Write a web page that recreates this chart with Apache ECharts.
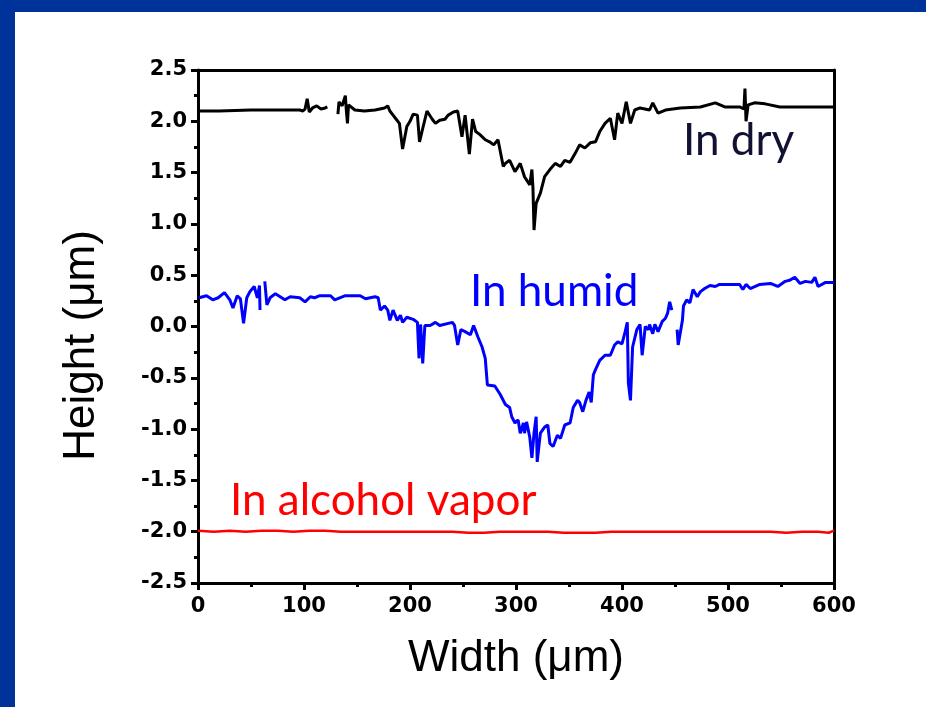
<!DOCTYPE html>
<html>
<head>
<meta charset="utf-8">
<script src="https://cdn.jsdelivr.net/npm/echarts@6/dist/echarts.min.js"></script>
<style>
  html, body { margin: 0; padding: 0; background: #ffffff; }
  #main { width: 926px; height: 707px; }
</style>
</head>
<body>
<div id="main"></div>
<script>
// width positions (um) and heights (um), null = gap in the scan
var dryX = [0, 20, 50, 80, 96, 99, 101, 103, 105, 108, 112, 116, 120, 122, 127,
  132, 133, 136, 139, 140, 141, 142, 148, 157, 167, 176, 179, 181, 184, 187, 190, 193, 197,
  200, 203, 207, 209, 212, 216, 221, 224, 228, 233, 236, 241, 245, 249, 252, 256, 259, 262,
  266, 271, 275, 279, 283, 288, 290, 294, 299, 304, 308, 313, 315, 316, 317, 319, 323, 327,
  332, 337, 342, 346, 351, 356, 360, 365, 370, 375, 379, 384, 389, 393, 396, 400, 404, 408,
  412, 417, 426, 429, 434, 441, 455, 474, 488, 497, 511, 515, 516, 517, 519, 525, 535, 549,
  570, 600];
var dryY = [2.10, 2.10, 2.11, 2.11, 2.11, 2.10, 2.12, 2.22, 2.09, 2.13, 2.15, 2.12, 2.13, 2.14, null,
  2.07, 2.19, 2.15, 2.25, 2.10, 1.98, 2.16, 2.11, 2.10, 2.11, 2.13, 2.15, 2.10, 2.06, 2.02, 1.98, 1.73, 1.95,
  2.00, 2.07, 2.06, 1.80, 1.93, 2.10, 2.02, 1.98, 2.01, 2.02, 2.06, 2.09, 2.10, 1.85, 2.06, 1.68, 2.02, 1.90,
  1.87, 1.82, 1.80, 1.77, 1.82, 1.56, 1.59, 1.62, 1.51, 1.59, 1.46, 1.38, 1.53, 1.35, 0.94, 1.20, 1.30, 1.46,
  1.53, 1.59, 1.56, 1.62, 1.60, 1.69, 1.77, 1.74, 1.79, 1.80, 1.90, 1.98, 2.03, 1.82, 2.08, 1.98, 2.19, 1.98,
  2.11, 2.13, 2.11, 2.18, 2.08, 2.11, 2.13, 2.14, 2.18, 2.14, 2.14, 2.12, 2.32, 2.00, 2.16, 2.18, 2.17, 2.14,
  2.14, 2.14];

var humidX = [1, 8, 14, 19, 25, 30, 33, 37, 40, 43, 46, 49, 53, 56, 58, 58.5, 61,
  63, 65, 68, 73, 82, 87, 96, 101, 106, 110, 115, 125, 129, 139, 153, 158, 167, 170, 172, 176,
  179, 181, 184, 188, 191, 193, 197, 203, 207, 208.5, 210, 212, 214, 219, 224, 228, 240, 242, 245,
  248, 252, 257, 260, 264, 268, 271, 273, 280, 285, 290, 294, 296, 299, 302, 304, 307, 308, 310,
  313, 315, 317, 319, 320, 323, 327, 330, 332, 335, 339, 342, 346, 351, 354, 358, 360, 363, 366,
  369, 371, 373, 375, 379, 384, 389, 393, 396, 400, 403, 405, 406, 408, 410, 414, 417, 419, 422,
  425, 426, 429, 431, 434, 438, 441, 443, 445, 447, 450,
  452, 453, 455, 457, 458, 461, 464, 467, 471, 474, 478, 483, 488, 492, 502, 511, 514, 517, 521,
  530, 540, 547, 554, 558, 563, 568, 573, 579, 582, 585, 592, 600];
var humidY = [0.28, 0.30, 0.26, 0.28, 0.33, 0.26, 0.18, 0.30, 0.27, 0.03, 0.28, 0.34, 0.39, 0.28, 0.40, 0.16, null,
  0.44, 0.21, 0.28, 0.32, 0.26, 0.29, 0.28, 0.24, 0.29, 0.28, 0.30, 0.30, 0.26, 0.30, 0.30, 0.27, 0.29, 0.28, 0.16, 0.20,
  0.16, 0.06, 0.16, 0.06, 0.11, 0.04, 0.09, 0.07, 0.04, -0.31, 0.02, -0.36, 0.01, 0.01, 0.04, 0.01, 0.04, 0.01, -0.18,
  -0.03, -0.05, -0.08, 0.01, -0.10, -0.20, -0.31, -0.57, -0.58, -0.66, -0.76, -0.79, -0.88, -0.94, -0.91, -1.04, -0.94, -1.04, -0.93,
  -1.08, -1.28, -1.04, -0.88, -1.32, -1.04, -0.98, -0.96, -1.14, -1.17, -1.06, -1.09, -0.96, -0.94, -0.79, -0.72, -0.74, -0.83, -0.72,
  -0.64, -0.74, -0.47, -0.42, -0.33, -0.28, -0.28, -0.18, -0.15, -0.17, -0.05, 0.04, -0.55, -0.72, -0.20, -0.03, 0.02, -0.28, 0.00,
  -0.03, 0.02, -0.07, 0.02, -0.05, 0.05, 0.08, 0.13, 0.24, 0.16, null,
  -0.03, -0.18, -0.06, 0.06, 0.20, 0.26, 0.23, 0.36, 0.29, 0.34, 0.37, 0.40, 0.39, 0.41, 0.41, 0.41, 0.36, 0.41, 0.37,
  0.41, 0.42, 0.39, 0.44, 0.45, 0.48, 0.42, 0.44, 0.43, 0.48, 0.39, 0.43, 0.43];

var alcoholX = [0, 15, 30, 45, 60, 75, 90, 105, 120, 135, 150, 165, 180, 195, 210, 225, 240, 255, 270,
  285, 300, 315, 330, 345, 360, 375, 390, 405, 420, 435, 450, 465, 480, 495, 510, 525, 540, 555,
  570, 585, 595, 600];
var alcoholY = [-1.99, -2.00, -1.99, -2.00, -1.99, -1.99, -2.00, -1.99, -1.99, -2.00, -2.00, -2.00, -2.00, -2.00, -2.00, -2.00, -2.00, -2.01, -2.01,
  -2.00, -2.00, -2.00, -2.00, -2.01, -2.01, -2.01, -2.00, -2.00, -2.00, -2.00, -2.00, -2.00, -2.00, -2.00, -2.00, -2.00, -2.00, -2.01,
  -2.00, -2.00, -2.01, -1.99];

var xTicks = [0, 100, 200, 300, 400, 500, 600];
var yTicks = [-2.5, -2.0, -1.5, -1.0, -0.5, 0.0, 0.5, 1.0, 1.5, 2.0, 2.5];

function pairs(xs, ys) {
  var out = [];
  for (var i = 0; i < xs.length; i++) {
    out.push([xs[i], ys[i] === null ? '-' : ys[i]]);
  }
  return out;
}

var chart = echarts.init(document.getElementById('main'), null, { renderer: 'canvas' });

var tickFont = {
  color: '#000',
  fontFamily: 'DejaVu Sans, Liberation Sans, sans-serif',
  fontWeight: 'bold',
  fontSize: 21
};
var titleFont = { color: '#000', fontFamily: 'Liberation Sans, Arial, sans-serif', fontSize: 44 };
var noteFont = '44px Lato, "Open Sans", sans-serif';

var option = {
  backgroundColor: '#ffffff',
  animation: false,
  grid: { left: 198, right: 92, top: 70, bottom: 124, containLabel: false },
  xAxis: [{
    type: 'value',
    min: xTicks[0],
    max: xTicks[xTicks.length - 1],
    interval: 100,
    name: 'Width (\u03bcm)',
    nameLocation: 'middle',
    nameGap: 54,
    nameTextStyle: titleFont,
    axisLine: { onZero: false, lineStyle: { color: '#000', width: 3 } },
    axisTick: { inside: false, length: 7, lineStyle: { color: '#000', width: 3 } },
    minorTick: { show: true, splitNumber: 2, length: 4, lineStyle: { color: '#000', width: 3 } },
    axisLabel: Object.assign({ margin: 13, formatter: function (v) { return String(v); } }, tickFont),
    splitLine: { show: false }
  }, {
    type: 'value',
    position: 'top',
    min: 0,
    max: 600,
    interval: 100,
    axisLine: { onZero: false, lineStyle: { color: '#000', width: 3 } },
    axisTick: { show: false },
    axisLabel: { show: false },
    splitLine: { show: false }
  }],
  yAxis: [{
    type: 'value',
    min: yTicks[0],
    max: yTicks[yTicks.length - 1],
    interval: 0.5,
    name: 'Height (\u03bcm)',
    nameLocation: 'middle',
    nameGap: 94,
    nameTextStyle: Object.assign({ padding: [0, 38, 0, 0] }, titleFont),
    axisLine: { onZero: false, lineStyle: { color: '#000', width: 3 } },
    axisTick: { inside: false, length: 7, lineStyle: { color: '#000', width: 3 } },
    minorTick: { show: true, splitNumber: 2, length: 4, lineStyle: { color: '#000', width: 3 } },
    axisLabel: Object.assign({ margin: 11, formatter: function (v) { return v.toFixed(1); } }, tickFont),
    splitLine: { show: false }
  }, {
    type: 'value',
    position: 'right',
    min: -2.5,
    max: 2.5,
    interval: 0.5,
    axisLine: { show: true, onZero: false, lineStyle: { color: '#000', width: 3 } },
    axisTick: { show: false },
    axisLabel: { show: false },
    splitLine: { show: false }
  }],
  series: [{
    name: 'In dry',
    type: 'line',
    showSymbol: false,
    connectNulls: false,
    data: pairs(dryX, dryY),
    lineStyle: { color: '#000000', width: 3 },
    itemStyle: { color: '#000000' },
    z: 3
  }, {
    name: 'In humid',
    type: 'line',
    showSymbol: false,
    connectNulls: false,
    data: pairs(humidX, humidY),
    lineStyle: { color: '#0000ff', width: 3 },
    itemStyle: { color: '#0000ff' },
    z: 3
  }, {
    name: 'In alcohol vapor',
    type: 'line',
    showSymbol: false,
    data: pairs(alcoholX, alcoholY),
    lineStyle: { color: '#ff0000', width: 2.5 },
    itemStyle: { color: '#ff0000' },
    z: 3
  }],
  graphic: [
    { type: 'rect', left: 0, top: 0, shape: { width: 926, height: 12 }, style: { fill: '#003399' }, z: 100 },
    { type: 'rect', left: 0, top: 0, shape: { width: 15, height: 707 }, style: { fill: '#003399' }, z: 100 },
    { type: 'text', left: 683, top: 119, style: { text: 'In dry', fill: '#111133', font: noteFont } },
    { type: 'text', left: 470, top: 270, style: { text: 'In humid', fill: '#0000ff', font: noteFont } },
    { type: 'text', left: 230, top: 479, style: { text: 'In alcohol vapor', fill: '#ff0000', font: noteFont } }
  ]
};

chart.setOption(option);
</script>
</body>
</html>
